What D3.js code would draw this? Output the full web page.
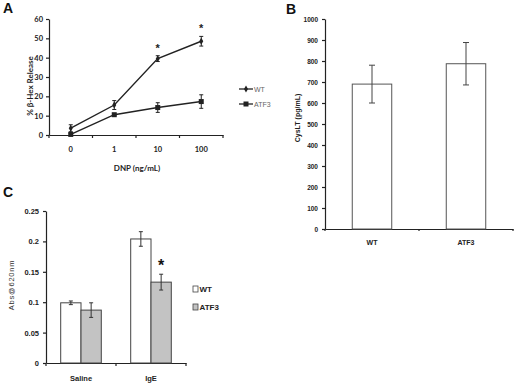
<!DOCTYPE html>
<html><head><meta charset="utf-8">
<script src="https://cdn.jsdelivr.net/npm/d3@7"></script>
<style>body{margin:0;background:#fff}svg{display:block}</style>
</head><body>
<svg id="c" width="516" height="387"></svg>
<script>
// Panel A data
const doseLabels = ["0", "1", "10", "100"];
const wtRelease = [3.5, 15.5, 39.5, 48.5];
const wtReleaseErr = [1.8, 2.3, 1.5, 2.5];
const atfRelease = [0.3, 10.5, 14.2, 17.3];
const atfReleaseErr = [0.5, 0.5, 2.5, 3.5];
const aStars = ["10", "100"];
const aTicks = [0, 10, 20, 30, 40, 50, 60];
// Panel B data
const bGroups = ["WT", "ATF3"];
const cyslt = [690, 787];
const cysltErr = [90, 101];
const bTicks = [0,100,200,300,400,500,600,700,800,900,1000];
// Panel C data
const cGroups = ["Saline", "IgE"];
const cSeries = ["WT", "ATF3"];
const cWT = [0.099, 0.204];
const cWTErr = [0.003, 0.012];
const cATF = [0.087, 0.133];
const cATFErr = [0.012, 0.013];
const cTicks = [0, 0.05, 0.1, 0.15, 0.2, 0.25];

const svg = d3.select("#c");
const ink = "#222";

function panelLabel(t, x, y){
  svg.append("text").attr("x", x).attr("y", y).text(t)
    .attr("font-family","Liberation Sans, Arial, sans-serif").attr("font-weight","bold")
    .attr("font-size", 14).attr("fill","#111");
}
function styleAxis(g, font, size, weight){
  g.selectAll("path,line").attr("stroke", ink).attr("stroke-width", 1.2);
  g.selectAll("text").attr("font-family", font).attr("font-size", size)
    .attr("font-weight", weight).attr("fill", "#222");
}

// ---------- Panel A ----------
panelLabel("A", 3, 13);
const ax = d3.scaleBand().domain(doseLabels).range([49, 223]);
const ay = d3.scaleLinear().domain([0, 60]).range([135, 19]);
const fontA = "Lato, 'Open Sans', sans-serif";
const gAy = svg.append("g").attr("transform","translate(49,0)")
  .call(d3.axisLeft(ay).tickValues(aTicks).tickSize(3).tickSizeOuter(0).tickPadding(3));
styleAxis(gAy, fontA, 7.5, "bold");
const gAx = svg.append("g").attr("transform","translate(0,135)")
  .call(d3.axisBottom(ax).tickSize(0).tickPadding(12));
styleAxis(gAx, fontA, 7.5, "bold");
gAx.selectAll(".bt").data([0,1,2,3,4]).enter().append("line")
  .attr("x1", i => 49 + i*ax.step()).attr("x2", i => 49 + i*ax.step())
  .attr("y1", 0).attr("y2", 3).attr("stroke", ink).attr("stroke-width",1.2);
svg.append("text").attr("x", 137).attr("y", 171).attr("text-anchor","middle")
  .attr("font-family", fontA).attr("font-size", 8).attr("font-weight","bold").attr("fill","#222")
  .text("DNP (ng/mL)");
svg.append("text").attr("transform","translate(33,86) rotate(-90)").attr("text-anchor","middle")
  .attr("font-family", fontA).attr("font-size", 8).attr("font-weight","bold").attr("fill","#222")
  .text("% β-Hex Release");

const cx = d => ax(d) + ax.bandwidth()/2;
const lineA = d3.line().x((v,i) => cx(doseLabels[i])).y(v => ay(v));
function errA(vals, errs){
  const g = svg.append("g").attr("stroke", ink).attr("stroke-width", 1);
  vals.forEach((v,i) => {
    const x = cx(doseLabels[i]);
    g.append("line").attr("x1",x).attr("x2",x).attr("y1",ay(v+errs[i])).attr("y2",ay(v-errs[i]));
    [v+errs[i], v-errs[i]].forEach(e => g.append("line").attr("x1",x-2).attr("x2",x+2).attr("y1",ay(e)).attr("y2",ay(e)));
  });
}
errA(wtRelease, wtReleaseErr);
errA(atfRelease, atfReleaseErr);
svg.append("path").datum(wtRelease).attr("d", lineA).attr("fill","none").attr("stroke",ink).attr("stroke-width",1.4);
svg.append("path").datum(atfRelease).attr("d", lineA).attr("fill","none").attr("stroke",ink).attr("stroke-width",1.4);
svg.selectAll(".wtm").data(wtRelease).enter().append("path")
  .attr("transform",(v,i)=>`translate(${cx(doseLabels[i])},${ay(v)})`)
  .attr("d", d3.symbol(d3.symbolDiamond, 14)).attr("fill", ink);
svg.selectAll(".atm").data(atfRelease).enter().append("rect")
  .attr("x",(v,i)=>cx(doseLabels[i])-2.5).attr("y",v=>ay(v)-2.5).attr("width",5).attr("height",5).attr("fill",ink);
aStars.forEach(d => {
  const i = doseLabels.indexOf(d);
  svg.append("text").attr("x", cx(d)).attr("y", ay(wtRelease[i]+wtReleaseErr[i]) - 4)
    .attr("text-anchor","middle").attr("font-family","Liberation Sans, Arial").attr("font-weight","bold")
    .attr("font-size", 11).attr("fill","#222").text("*");
});
[["WT", 89, "d"], ["ATF3", 104, "s"]].forEach(([t, y, m]) => {
  svg.append("line").attr("x1",239).attr("x2",253).attr("y1",y).attr("y2",y).attr("stroke",ink).attr("stroke-width",1.3);
  if (m === "d") svg.append("path").attr("transform",`translate(246,${y})`).attr("d", d3.symbol(d3.symbolDiamond,14)).attr("fill",ink);
  else svg.append("rect").attr("x",243.5).attr("y",y-2.5).attr("width",5).attr("height",5).attr("fill",ink);
  svg.append("text").attr("x",254).attr("y",y+2.5).attr("font-family","Liberation Sans, Arial").attr("font-size",7).attr("fill","#666").text(t);
});

// ---------- Panel B ----------
panelLabel("B", 286, 14);
const bx = d3.scaleBand().domain(bGroups).range([325, 513]).paddingInner(0.58).paddingOuter(0.29);
const by = d3.scaleLinear().domain([0, 1000]).range([229, 19]);
const fontB = "'Liberation Sans Narrow', 'Liberation Sans', Arial, sans-serif";
const gBy = svg.append("g").attr("transform","translate(325,0)")
  .call(d3.axisLeft(by).tickValues(bTicks).tickFormat(d3.format("d")).tickSize(3).tickSizeOuter(0).tickPadding(4));
styleAxis(gBy, fontB, 6.5, "bold");
const bxFull = d3.scaleBand().domain(bGroups).range([325, 513]);
const gBx = svg.append("g").attr("transform","translate(0,229)")
  .call(d3.axisBottom(bxFull).tickSize(0).tickPadding(11));
styleAxis(gBx, fontB, 7, "bold");
gBx.selectAll(".bt").data([0,1,2]).enter().append("line")
  .attr("x1", i => 325 + i*bxFull.step()).attr("x2", i => 325 + i*bxFull.step())
  .attr("y1",0).attr("y2",2).attr("stroke",ink).attr("stroke-width",1.2);
svg.selectAll(".bb").data(cyslt).enter().append("rect")
  .attr("x",(v,i)=>bx(bGroups[i])).attr("width",bx.bandwidth())
  .attr("y",v=>by(v)).attr("height",v=>229-by(v))
  .attr("fill","#fff").attr("stroke","#555").attr("stroke-width",1);
cyslt.forEach((v,i)=>{
  const x = bx(bGroups[i]) + bx.bandwidth()/2;
  const g = svg.append("g").attr("stroke","#444").attr("stroke-width",1);
  g.append("line").attr("x1",x).attr("x2",x).attr("y1",by(v+cysltErr[i])).attr("y2",by(v-cysltErr[i]));
  [v+cysltErr[i], v-cysltErr[i]].forEach(e=>g.append("line").attr("x1",x-3).attr("x2",x+3).attr("y1",by(e)).attr("y2",by(e)));
});
svg.append("text").attr("transform","translate(300,118) rotate(-90)").attr("text-anchor","middle")
  .attr("font-family", fontB).attr("font-size",7).attr("font-weight","bold").attr("fill","#222")
  .text("CysLT (pg/mL)");

// ---------- Panel C ----------
panelLabel("C", 3, 197);
const cx0 = d3.scaleBand().domain(cGroups).range([46, 186]).paddingInner(0.42).paddingOuter(0.21);
const cx1 = d3.scaleBand().domain(cSeries).range([0, cx0.bandwidth()]);
const cy = d3.scaleLinear().domain([0, 0.25]).range([363, 211]);
const fontC = "'Liberation Sans Narrow', 'Liberation Sans', Arial, sans-serif";
const gCy = svg.append("g").attr("transform","translate(46,0)")
  .call(d3.axisLeft(cy).tickValues(cTicks).tickFormat(d => d3.format("")(+d.toFixed(2))).tickSize(3).tickSizeOuter(0).tickPadding(4));
styleAxis(gCy, fontC, 7.5, "bold");
const cxFull = d3.scaleBand().domain(cGroups).range([46, 186]);
const gCx = svg.append("g").attr("transform","translate(0,363)")
  .call(d3.axisBottom(cxFull).tickSize(0).tickPadding(13));
styleAxis(gCx, fontC, 7.5, "bold");
gCx.selectAll(".bt").data([0,1,2]).enter().append("line")
  .attr("x1", i => 46 + i*cxFull.step()).attr("x2", i => 46 + i*cxFull.step())
  .attr("y1",0).attr("y2",3).attr("stroke",ink).attr("stroke-width",1.2);
const cData = [[cWT, cWTErr, "#fff"], [cATF, cATFErr, "#c3c3c3"]];
cData.forEach(([vals, errs, fill], s) => {
  vals.forEach((v, i) => {
    const x = cx0(cGroups[i]) + cx1(cSeries[s]);
    svg.append("rect").attr("x", x).attr("width", cx1.bandwidth()).attr("y", cy(v)).attr("height", 363 - cy(v))
      .attr("fill", fill).attr("stroke", "#444").attr("stroke-width", 1);
    const xm = x + cx1.bandwidth()/2;
    const g = svg.append("g").attr("stroke","#333").attr("stroke-width",1);
    g.append("line").attr("x1",xm).attr("x2",xm).attr("y1",cy(v+errs[i])).attr("y2",cy(v-errs[i]));
    [v+errs[i], v-errs[i]].forEach(e=>g.append("line").attr("x1",xm-2).attr("x2",xm+2).attr("y1",cy(e)).attr("y2",cy(e)));
  });
});
svg.append("text").attr("x", cx0("IgE") + cx1("ATF3") + cx1.bandwidth()/2).attr("y", cy(cATF[1]+cATFErr[1]) - 3)
  .attr("text-anchor","middle").attr("font-family","Liberation Sans, Arial").attr("font-weight","bold")
  .attr("font-size",16).attr("fill","#111").text("*");
svg.append("text").attr("transform","translate(14,285) rotate(-90)").attr("text-anchor","middle")
  .attr("font-family","'Liberation Sans', Arial, sans-serif").attr("font-size",7.5).attr("letter-spacing",0.8).attr("fill","#333")
  .text("Abs@620nm");
cSeries.forEach((t, s) => {
  const y = 289 + s*18;
  svg.append("rect").attr("x",193).attr("y",y-3).attr("width",5).attr("height",6)
    .attr("fill", cData[s][2]).attr("stroke","#444").attr("stroke-width",0.8);
  svg.append("text").attr("x",199.5).attr("y",y+3).attr("font-family",fontC).attr("font-weight","bold")
    .attr("font-size",8).attr("fill","#222").text(t);
});
</script>
</body></html>
